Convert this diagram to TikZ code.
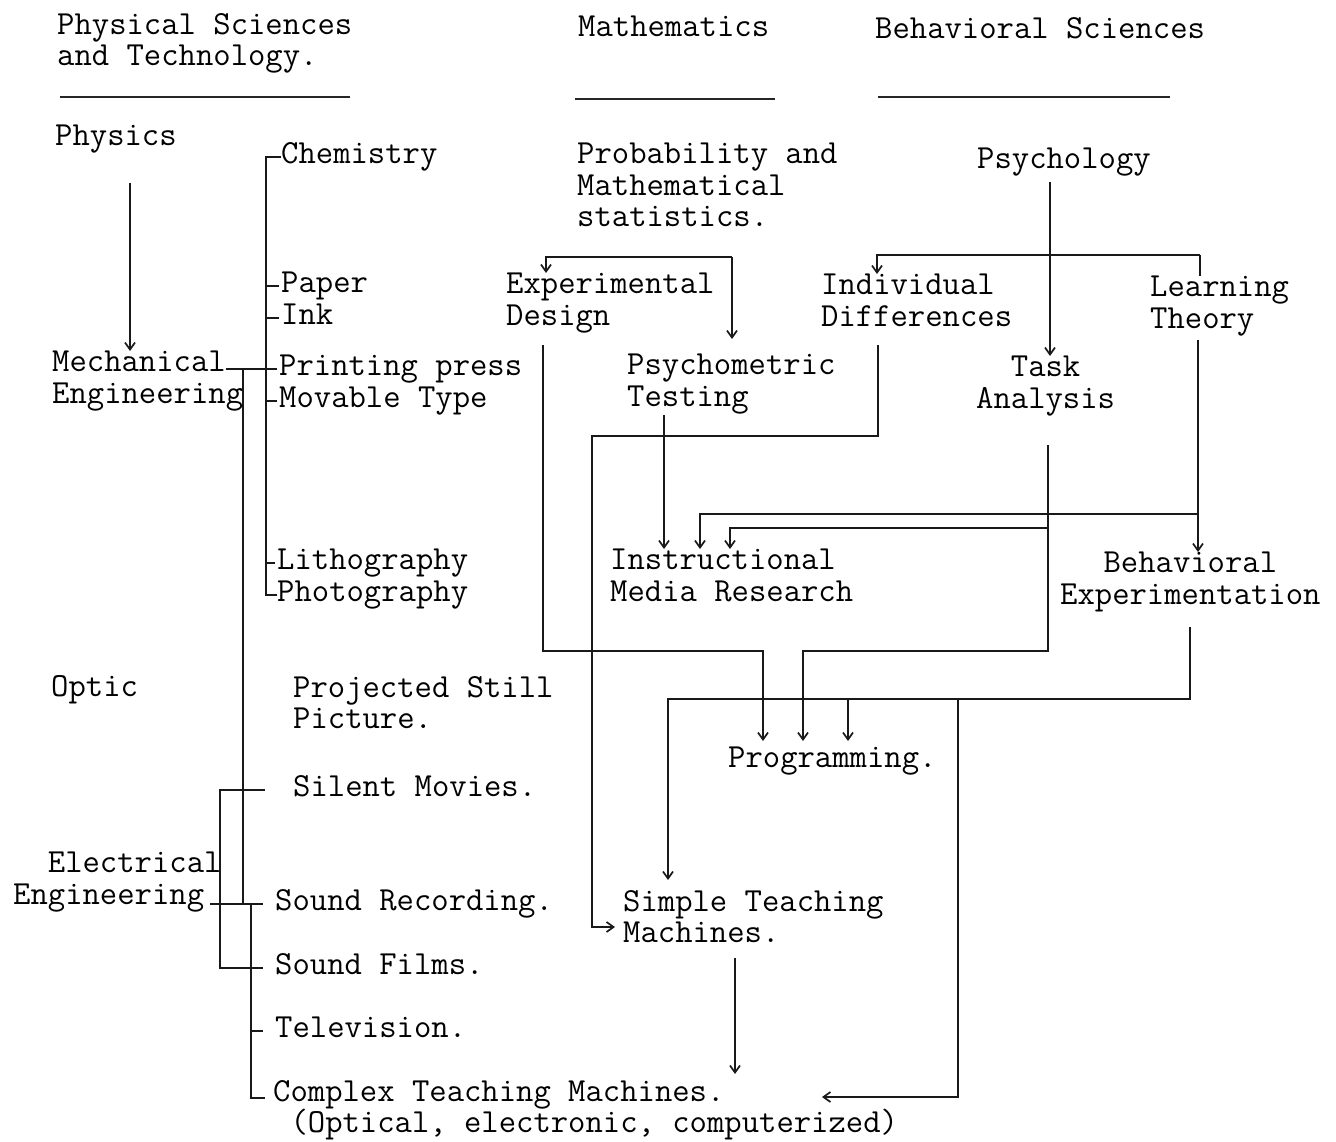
\documentclass[tikz,border=0pt]{standalone}
\usepackage{xcolor}
\usepackage{fontspec}
\usepackage{tikz}
\usetikzlibrary{arrows.meta}

\begin{document}
\begin{tikzpicture}[x=1pt, y=-1pt]
\tikzstyle{field}=[anchor=north west, inner sep=0pt, align=left, font=\ttfamily\fontsize{33.7}{31.5}\selectfont, execute at begin node=\strut]
\tikzstyle{rulebar}=[line width=2.2pt, draw=black!85]
\tikzstyle{wire}=[line width=1.7pt, draw=black!90]
\tikzstyle{feed}=[wire, -{Straight Barb[length=7pt, width=10pt]}]

\useasboundingbox (0,0) rectangle (1336,1142);

% Column headings
\node[field] (hphys) at (57,13) {Physical Sciences\\and Technology.};
\node[field] (hmath) at (578,14) {Mathematics};
\node[field] (hbeh) at (875,16) {Behavioral Sciences};
\draw[rulebar] (60,97) -- (350,97);
\draw[rulebar] (575,99) -- (775,99);
\draw[rulebar] (878,97) -- (1170,97);

% Physical sciences column
\node[field] (phys) at (55,123) {Physics};
\node[field] (chem) at (281,141) {Chemistry};
\node[field] (paper) at (281,270) {Paper};
\node[field] (ink) at (281,302) {Ink};
\node[field] (mech) at (52,351) {Mechanical\\Engineering};
\node[field] (print) at (279,353) {Printing press};
\node[field] (movable) at (279,385) {Movable Type};
\node[field] (litho) at (277,547) {Lithography};
\node[field] (photo) at (277,579) {Photography};
\node[field] (optic) at (51,674) {Optic};
\node[field] (still) at (293,676) {Projected Still\\Picture.};
\node[field] (silent) at (293,774) {Silent Movies.};
\node[field] (elec) at (13,852) {~~Electrical\\Engineering};
\node[field] (srec) at (275,888) {Sound Recording.};
\node[field] (sfilm) at (275,952) {Sound Films.};
\node[field] (tv) at (275,1015) {Television.};
\node[field] (ctm) at (273,1080) {Complex Teaching Machines.\\~(Optical, electronic, computerized)};

% Mathematics and behavioral columns
\node[field] (prob) at (577,143) {Probability and\\Mathematical\\statistics.};
\node[field] (psych) at (977,146) {Psychology};
\node[field] (expd) at (506,273) {Experimental\\Design};
\node[field] (indiv) at (821,274) {Individual\\Differences};
\node[field] (learn) at (1150,276) {Learning\\Theory};
\node[field] (psym) at (627,354) {Psychometric\\Testing};
\node[field, align=center] (task) at (976,356) {Task\\Analysis};
\node[field] (imr) at (610,549) {Instructional\\Media Research};
\node[field, align=center] (bexp) at (1060,552) {Behavioral\\Experimentation};
\node[field] (prog) at (728,745) {Programming.};
\node[field] (stm) at (623,890) {Simple Teaching\\Machines.};

% Bus lines on the left
\coordinate (chembus) at (266,0);
\coordinate (mechbus) at (243,0);
\coordinate (elecbus) at (220,0);
\coordinate (lowbus) at (251,0);
\coordinate (mechend) at ([xshift=174pt]mech.north west);
\coordinate (physdn) at ([xshift=75pt, yshift=-28pt]phys.south west);
\coordinate (ctmin) at ([xshift=-8pt, yshift=-18pt]ctm.north west);

\draw[feed] (physdn) -- (physdn |- mech.north);
\draw[wire] (chem.west) -- (chembus |- chem.west) -- (chembus |- photo.west) -- (photo.west);
\foreach \n in {paper, ink, movable, litho}
  \draw[wire] (chembus |- \n.west) -- ([xshift=-2pt]\n.west);
\draw[wire] (mechend |- print.west) -- ([xshift=-2pt]print.west);
\draw[wire] (mechbus |- print.west) -- (mechbus |- srec.west);
\draw[wire] ([xshift=-10pt]elecbus |- srec.west) -- ([xshift=-12pt]srec.west);
\draw[wire] ([xshift=-28pt]silent.west) -- (elecbus |- silent.west) -- (elecbus |- sfilm.west) -- ([xshift=-12pt]sfilm.west);
\draw[wire] (lowbus |- srec.west) -- (lowbus |- ctmin) -- (ctmin);
\draw[wire] (lowbus |- tv.west) -- ([xshift=-12pt]tv.west);

% Routes on the right
\coordinate (pl) at (546,257);
\coordinate (pr) at (732,257);
\draw[feed] (pr) -- (pl) -- (pl |- expd.north);
\draw[feed, shorten >=15pt] (pr) -- (pr |- psym.north);

\coordinate (psydn) at (1050,182);
\coordinate (psyl) at (877,255);
\coordinate (psyr) at (1200,255);
\draw[feed] (psydn) -- (psydn |- task.north);
\draw[feed] (psyr) -- (psyl) -- (psyl |- indiv.north);
\draw[wire] (psyr) -- (psyr |- learn.north);

\coordinate (ed1) at (543,345);
\coordinate (ed2) at (543,651);
\coordinate (ed3) at (763,651);
\draw[feed, shorten >=4pt] (ed1) -- (ed2) -- (ed3) -- (ed3 |- prog.north);

\coordinate (pt1) at (664,415);
\draw[feed] (pt1) -- (pt1 |- imr.north);

\coordinate (id1) at (878,345);
\coordinate (id2) at (878,436);
\coordinate (id3) at (592,436);
\coordinate (id4) at (592,927);
\draw[feed, shorten >=8pt] (id1) -- (id2) -- (id3) -- (id4) -- (id4 -| stm.west);

\coordinate (ta1) at (1048,445);
\coordinate (ta2) at (1048,651);
\coordinate (ta3) at (803,651);
\coordinate (ta4) at (1048,528);
\coordinate (ta5) at (730,528);
\draw[feed, shorten >=4pt] (ta1) -- (ta2) -- (ta3) -- (ta3 |- prog.north);
\draw[feed] (ta4) -- (ta5) -- (ta5 |- imr.north);

\coordinate (lt1) at (1198,340);
\coordinate (lt2) at (1198,514);
\coordinate (lt3) at (700,514);
\draw[feed] (lt1) -- (lt1 |- bexp.north);
\draw[feed] (lt2) -- (lt3) -- (lt3 |- imr.north);

\coordinate (be1) at (1190,627);
\coordinate (be2) at (1190,699);
\coordinate (be3) at (668,699);
\coordinate (be4) at (848,699);
\coordinate (be5) at (958,699);
\coordinate (be6) at (958,1097);
\coordinate (be7) at (822,1097);
\draw[feed, shorten >=10pt] (be1) -- (be2) -- (be3) -- (be3 |- stm.north);
\draw[feed, shorten >=4pt] (be4) -- (be4 |- prog.north);
\draw[feed] (be5) -- (be6) -- (be7);

\coordinate (st1) at (735,958);
\draw[feed, shorten >=6pt] (st1) -- (st1 |- ctm.north);
\end{tikzpicture}
\end{document}
